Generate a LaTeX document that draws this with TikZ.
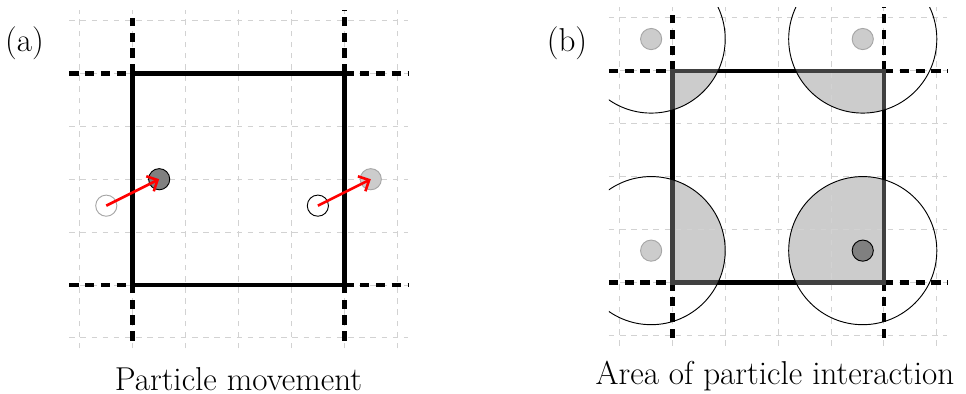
\documentclass[tikz,border=0pt]{standalone}
\usetikzlibrary{arrows.meta}
\begin{document}
\begin{tikzpicture}[
		grid/.style={gray!35,dashed,line width=.5pt},
		wall/.style={line width=2.4pt},
		ghost/.style={line width=2.4pt,dash pattern=on 5pt off 3.5pt},
		part/.style={circle,draw,minimum size=.4cm,inner sep=0pt,line width=.5pt},
		move/.style={red,line width=1.4pt,-{Straight Barb[length=4.5pt,width=9pt]}},
		caption/.style={inner sep=0pt,font=\fontsize{17.8}{21}\selectfont}]
	\useasboundingbox (-2.509,-2.06) rectangle (15.752,5.388);
	% (a) particle movement
	\draw[grid] (-1.2,-1.2) grid (5.2,5.2);
	\foreach \a/\b in {-1.2/0,4/5.2} {
		\draw[ghost] (\a,0) -- (\b,0);
		\draw[ghost] (\a,4) -- (\b,4);
	}
	\draw[ghost] (0,-1.05) -- (0,0);
	\draw[ghost] (4,-1.05) -- (4,0);
	\draw[ghost] (0,4) -- (0,5.05);
	\draw[ghost] (4,4) -- (4,5.2);
	\draw[wall] (0,0) rectangle (4,4);
	\node[part,draw=gray!70] (a0) at (-0.5,1.5) {};
	\node[part,fill=gray] (a1) at (0.5,2) {};
	\node[part] (b0) at (3.5,1.5) {};
	\node[part,fill=gray!40,draw=gray!70] (b1) at (4.5,2) {};
	\draw[move] (a0.center) -- (a1.center);
	\draw[move] (b0.center) -- (b1.center);
	\node[caption] (la) at (-2.045,4.57) {(a)};
	\node[caption] (ca) at (2,-1.77) {Particle movement};
	% (b) interaction area
	\begin{scope}[shift={(10.2,0.05)}]
		\begin{scope}
			\clip (0,0) rectangle (4,4);
			\foreach \x/\y in {-0.4/0.6,3.6/0.6,-0.4/4.6,3.6/4.6}
				\fill[gray!40] (\x,\y) circle (1.4);
		\end{scope}
		\draw[grid] (-1.2,-1.2) grid (5.2,5.2);
		\foreach \a/\b in {-1.2/0,4/5.2} {
			\draw[ghost] (\a,0) -- (\b,0);
			\draw[ghost] (\a,4) -- (\b,4);
		}
		\draw[ghost] (0,-1.05) -- (0,0);
		\draw[ghost] (4,-1.05) -- (4,0);
		\draw[ghost] (0,4) -- (0,5.05);
		\draw[ghost] (4,4) -- (4,5.2);
		\draw[wall] (0,0) rectangle (4,4);
		\foreach \x/\y in {-0.4/0.6,3.6/0.6,-0.4/4.6,3.6/4.6} {
			\begin{scope}
				\clip (\x,\y) circle (1.4);
				\draw[wall,black!75] (0,0) rectangle (4,4);
			\end{scope}
		}
		\begin{scope}
			\clip (-1.2,-1.2) rectangle (5.2,5.2);
			\foreach \x/\y in {-0.4/0.6,3.6/0.6,-0.4/4.6,3.6/4.6}
				\draw[line width=.5pt] (\x,\y) circle (1.4);
		\end{scope}
		\node[part,fill=gray!40,draw=gray!70] (c1) at (-0.4,4.6) {};
		\node[part,fill=gray!40,draw=gray!70] (c2) at (3.6,4.6) {};
		\node[part,fill=gray!40,draw=gray!70] (c3) at (-0.4,0.6) {};
		\node[part,fill=gray] (c0) at (3.6,0.6) {};
	\end{scope}
	\node[caption] (lb) at (8.21,4.57) {(b)};
	\node[caption] (cb) at (12.14,-1.72) {Area of particle interaction};
\end{tikzpicture}
\end{document}
